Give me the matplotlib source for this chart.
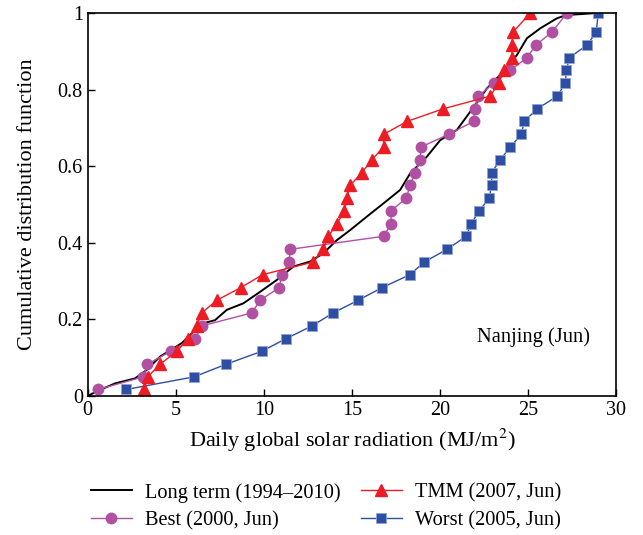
import numpy as np
import matplotlib
matplotlib.use("Agg")
import matplotlib.pyplot as plt

plt.rcParams['font.family'] = ['Liberation Serif', 'DejaVu Serif']
plt.rcParams['mathtext.fontset'] = 'stix'

# long term CDF (1994-2010)
long_x = [0.0, 0.5, 1.56, 2.69, 3.35, 4.11, 5.34, 6.1, 6.66, 7.23, 7.9, 8.84, 9.79,
          10.74, 11.68, 12.63, 13.39, 14.15, 14.9, 15.84, 16.8, 17.74, 18.31, 19.26,
          20.02, 20.97, 21.72, 22.67, 23.61, 24.37, 24.94, 25.7, 26.64, 27.2, 27.97, 28.91]
long_y = [0.0, 0.012, 0.033, 0.046, 0.068, 0.103, 0.138, 0.172, 0.191, 0.198, 0.225, 0.242, 0.272,
          0.303, 0.338, 0.351, 0.373, 0.407, 0.433, 0.468, 0.503, 0.538, 0.581, 0.625,
          0.668, 0.695, 0.742, 0.803, 0.847, 0.89, 0.934, 0.96, 0.986, 0.995, 0.997, 1.0]

# TMM (2007, Jun)
tmm_x = [3.22, 3.41, 4.11, 5.07, 5.72, 6.19, 6.48, 7.33, 8.69, 9.94,
         12.82, 13.37, 13.67, 14.15, 14.58, 14.72, 14.9, 15.57, 16.14, 16.8,
         16.8, 18.13, 20.2, 22.86, 23.33, 23.65, 24.09, 24.09, 24.15, 25.13]
tmm_y = [0.017, 0.05, 0.083, 0.117, 0.15, 0.183, 0.217, 0.25, 0.283, 0.317,
         0.35, 0.383, 0.417, 0.45, 0.483, 0.517, 0.55, 0.583, 0.617, 0.65,
         0.683, 0.717, 0.75, 0.783, 0.817, 0.85, 0.883, 0.917, 0.95, 1.0]

# Best (2000, Jun)
best_x = [0.57, 3.16, 3.39, 4.72, 6.1, 6.48, 9.32, 9.79, 10.88, 11.02,
          11.44, 11.5, 16.8, 17.23, 17.23, 18.09, 18.31, 18.6, 18.88, 18.92,
          20.49, 21.91, 22.0, 22.19, 23.05, 23.99, 24.93, 25.47, 26.36, 27.22]
best_y = [0.017, 0.05, 0.083, 0.117, 0.15, 0.183, 0.217, 0.25, 0.283, 0.317,
          0.35, 0.383, 0.417, 0.45, 0.483, 0.517, 0.55, 0.583, 0.617, 0.65,
          0.683, 0.717, 0.75, 0.783, 0.817, 0.85, 0.883, 0.917, 0.95, 1.0]

# Worst (2005, Jun)
worst_x = [2.18, 6.04, 7.86, 9.9, 11.27, 12.74, 13.94, 15.36, 16.72, 18.31,
           19.11, 20.41, 21.49, 21.78, 22.23, 22.8, 22.94, 22.94, 23.43, 24.0,
           24.62, 24.79, 25.53, 26.67, 27.12, 27.18, 27.35, 28.37, 28.88, 28.99]
worst_y = [0.017, 0.05, 0.083, 0.117, 0.15, 0.183, 0.217, 0.25, 0.283, 0.317,
           0.35, 0.383, 0.417, 0.45, 0.483, 0.517, 0.55, 0.583, 0.617, 0.65,
           0.683, 0.717, 0.75, 0.783, 0.817, 0.85, 0.883, 0.917, 0.95, 1.0]

red = '#ED1C24'
purple = '#B150A2'
blue = '#2D4EA2'

fig = plt.figure(figsize=(6.43, 5.35), dpi=100)
ax = fig.add_axes([0.1364, 0.2598, 0.8216, 0.7159])

l_long, = ax.plot(long_x, long_y, color='black', lw=1.4, label='Long term (1994\u20132010)')
l_best, = ax.plot(best_x, best_y, color=purple, lw=1.0, marker='o', ms=7.5,
                  mec=purple, mfc=purple, label='Best (2000, Jun)')
l_worst, = ax.plot(worst_x, worst_y, color=blue, lw=1.0, marker='s', ms=7,
                   mec='#8FA3D6', mew=0.6, mfc=blue, label='Worst (2005, Jun)')
l_tmm, = ax.plot(tmm_x, tmm_y, color=red, lw=1.0, marker='^', ms=9,
                 mec=red, mfc=red, label='TMM (2007, Jun)')

ax.set_xlim(0, 30)
ax.set_ylim(0, 1)
ax.set_xticks([0, 5, 10, 15, 20, 25, 30])
ax.set_yticks([0, 0.2, 0.4, 0.6, 0.8, 1.0])
ax.set_yticklabels(['0', '0.2', '0.4', '0.6', '0.8', '1'])
ax.tick_params(direction='in', labelsize=14.5, length=5, width=1)
for sp in ax.spines.values():
    sp.set_linewidth(1.2)

ax.set_xlabel('Daily global solar radiation (MJ/m$^2$)', fontsize=16, labelpad=5)
ax.set_ylabel('Cumulative distribution function', fontsize=16, labelpad=15)
ax.text(25.3, 0.154, 'Nanjing (Jun)', fontsize=14.8, ha='center', va='center')

fig.legend([l_long, l_best, l_tmm, l_worst],
           [l_long.get_label(), l_best.get_label(), l_tmm.get_label(), l_worst.get_label()],
           ncol=2, frameon=False, fontsize=14.7, loc='center',
           bbox_to_anchor=(0.507, 0.053), handlelength=2.0, handletextpad=0.65,
           columnspacing=1.0, labelspacing=0.42)

plt.savefig('out.png', dpi=100)
plt.close()
